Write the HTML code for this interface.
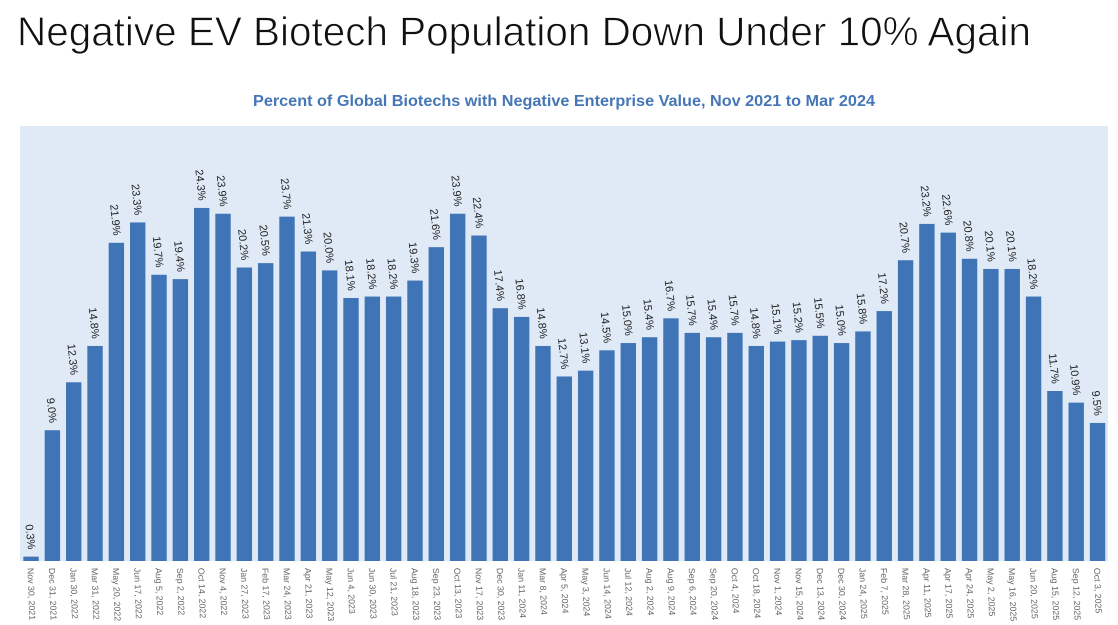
<!DOCTYPE html>
<html>
<head>
<meta charset="utf-8">
<style>
html,body{margin:0;padding:0;background:#fff;width:1118px;height:625px;overflow:hidden}
svg{display:block;font-family:"Liberation Sans",sans-serif}
</style>
</head>
<body>
<svg id="chart" width="1118" height="625" viewBox="0 0 1118 625">
<text x="17" y="45.5" font-size="41" fill="#111" stroke="#fff" stroke-width="0.8" textLength="1014" lengthAdjust="spacingAndGlyphs">Negative EV Biotech Population Down Under 10% Again</text>
<text x="253" y="106" font-size="15.5" font-weight="bold" fill="#4576b5" textLength="622" lengthAdjust="spacingAndGlyphs">Percent of Global Biotechs with Negative Enterprise Value, Nov 2021 to Mar 2024</text>
<rect x="20" y="126" width="1088" height="435" fill="#e0eaf6"/>
<g id="bars"></g>
<g id="values"></g>
<g id="dates"></g>
</svg>
<script>
const categories = ["Nov 30, 2021","Dec 31, 2021","Jan 30, 2022","Mar 31, 2022","May 20, 2022","Jun 17, 2022","Aug 5, 2022","Sep 2, 2022","Oct 14, 2022","Nov 4, 2022","Jan 27, 2023","Feb 17, 2023","Mar 24, 2023","Apr 21, 2023","May 12, 2023","Jun 4, 2023","Jun 30, 2023","Jul 21, 2023","Aug 18, 2023","Sep 23, 2023","Oct 13, 2023","Nov 17, 2023","Dec 30, 2023","Jan 11, 2024","Mar 8, 2024","Apr 5, 2024","May 3, 2024","Jun 14, 2024","Jul 12, 2024","Aug 2, 2024","Aug 9, 2024","Sep 6, 2024","Sep 20, 2024","Oct 4, 2024","Oct 18, 2024","Nov 1, 2024","Nov 15, 2024","Dec 13, 2024","Dec 30, 2024","Jan 24, 2025","Feb 7, 2025","Mar 28, 2025","Apr 11, 2025","Apr 17, 2025","Apr 24, 2025","May 2, 2025","May 16, 2025","Jun 20, 2025","Aug 15, 2025","Sep 12, 2025","Oct 3, 2025"];
const percentValues = [0.3,9.0,12.3,14.8,21.9,23.3,19.7,19.4,24.3,23.9,20.2,20.5,23.7,21.3,20.0,18.1,18.2,18.2,19.3,21.6,23.9,22.4,17.4,16.8,14.8,12.7,13.1,14.5,15.0,15.4,16.7,15.7,15.4,15.7,14.8,15.1,15.2,15.5,15.0,15.8,17.2,20.7,23.2,22.6,20.8,20.1,20.1,18.2,11.7,10.9,9.5];

const NS = "http://www.w3.org/2000/svg";
const baseY = 561, pxPerUnit = 14.53, firstCenter = 31.05, pitch = 21.33, barW = 15.4;
const xScale = i => firstCenter + i * pitch;
const yScale = v => baseY - v * pxPerUnit;
const barsG = document.getElementById("bars");
const valuesG = document.getElementById("values");
const datesG = document.getElementById("dates");

percentValues.forEach((v, i) => {
  const cx = xScale(i), top = yScale(v);

  const r = document.createElementNS(NS, "rect");
  r.setAttribute("x", cx - barW / 2);
  r.setAttribute("y", top);
  r.setAttribute("width", barW);
  r.setAttribute("height", baseY - top);
  r.setAttribute("fill", "#3f74b7");
  
  
  barsG.appendChild(r);

  const t = document.createElementNS(NS, "text");
  const lx = cx - 3, ly = top - 7;
  t.setAttribute("transform", "translate(" + lx + "," + ly + ") rotate(84)");
  t.setAttribute("text-anchor", "end");
  t.setAttribute("font-size", "11");
  t.setAttribute("fill", "#222");
  t.textContent = v.toFixed(1) + "%";
  
  
  valuesG.appendChild(t);

  const d = document.createElementNS(NS, "text");
  d.setAttribute("transform", "translate(" + (cx - 3.5) + ",568) rotate(88)");
  d.setAttribute("font-size", "8.8");
  d.setAttribute("fill", "#666");
  d.textContent = categories[i];
  
  
  datesG.appendChild(d);
});
</script>
</body>
</html>
